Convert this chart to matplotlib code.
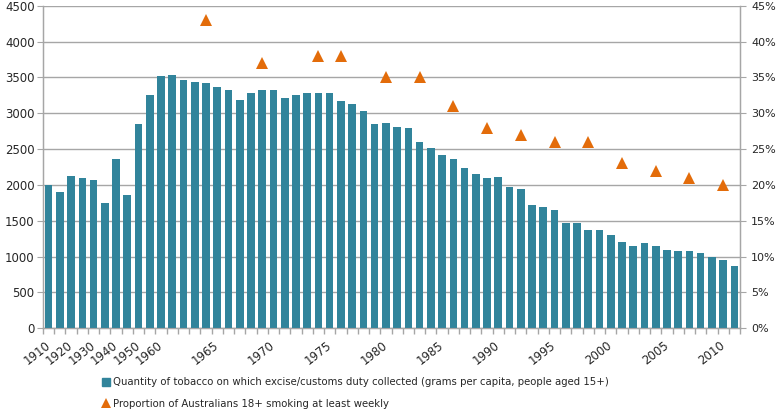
import matplotlib
matplotlib.use("Agg")
import matplotlib.pyplot as plt
from matplotlib.lines import Line2D
import numpy as np

# ---- data ----
early_years = ['1910', '1915', '1920', '1925', '1930', '1935', '1940', '1945', '1950', '1955']
annual_years = [str(y) for y in range(1960, 2012)]
categories = early_years + annual_years

tobacco_grams = [2000, 1900, 2130, 2100, 2070, 1755, 2360, 1855, 2845, 3255,
                 3515, 3540, 3470, 3440, 3425, 3370, 3325, 3180, 3285, 3325,
                 3325, 3220, 3255, 3280, 3280, 3280, 3175, 3125, 3035, 2850,
                 2860, 2815, 2790, 2600, 2515, 2425, 2365, 2235, 2160, 2095,
                 2105, 1965, 1945, 1725, 1690, 1655, 1468, 1468, 1366, 1366,
                 1305, 1205, 1145, 1190, 1145, 1093, 1075, 1075, 1055, 995,
                 958, 870]

smoking_years = ['1964', '1969', '1974', '1976', '1980', '1983', '1986', '1989',
                 '1992', '1995', '1998', '2001', '2004', '2007', '2010']
smoking_pct = [43, 37, 38, 38, 35, 35, 31, 28, 27, 26, 26, 23, 22, 21, 20]

shown_labels = ['1910', '1920', '1930', '1940', '1950', '1960', '1965', '1970', '1975',
                '1980', '1985', '1990', '1995', '2000', '2005', '2010']

bar_label = 'Quantity of tobacco on which excise/customs duty collected (grams per capita, people aged 15+)'
tri_label = 'Proportion of Australians 18+ smoking at least weekly'

# ---- style ----
bar_color = '#31849B'
tri_color = '#E36C0A'
grid_color = '#A6A6A6'
text_color = '#262626'

fig = plt.figure(figsize=(7.8, 4.12), dpi=100)
ax = fig.add_axes([43/780, 1 - 328.3/412, (740-43)/780, (328.3-5.8)/412])

x = np.arange(len(categories))
ax.bar(x, tobacco_grams, width=0.68, color=bar_color, zorder=3)
ax.set_xlim(-0.5, len(categories) - 0.5)
ax.set_ylim(0, 4500)
ax.set_yticks(np.arange(0, 4501, 500))
ax.yaxis.grid(True, color=grid_color, linewidth=1.0, zorder=0)
ax.set_axisbelow(True)

ax.spines['top'].set_visible(False)
for s in ['left', 'right', 'bottom']:
    ax.spines[s].set_color(grid_color)
    ax.spines[s].set_linewidth(1.0)

# x ticks: marks at category boundaries, labels at centres
label_pos = [categories.index(l) for l in shown_labels]
ax.set_xticks(label_pos)
ax.set_xticklabels(shown_labels, rotation=38, ha='right', va='center',
                   rotation_mode='anchor', fontsize=8.5, color=text_color)
ax.tick_params(axis='x', which='major', length=0, pad=11)
ax.set_xticks(np.arange(-0.5, len(categories), 1.0), minor=True)
ax.tick_params(axis='x', which='minor', length=4, color=grid_color, width=1)

ax.tick_params(axis='y', length=4, color=grid_color, labelsize=8.5, labelcolor=text_color, pad=2)

ax2 = ax.twinx()
tri_x = [categories.index(y) for y in smoking_years]
ax2.plot(tri_x, [p / 100 for p in smoking_pct], linestyle='none', marker='^',
         markersize=8, color=tri_color, markeredgewidth=0, zorder=4)
ax2.set_ylim(0, 0.45)
ticks2 = np.arange(0, 0.451, 0.05)
ax2.set_yticks(ticks2)
ax2.set_yticklabels([f'{int(round(v*100))}%' for v in ticks2])
ax2.tick_params(axis='y', length=4, color=grid_color, labelsize=8, labelcolor=text_color, pad=4)
ax2.spines['top'].set_visible(False)
for s in ['left', 'right', 'bottom']:
    ax2.spines[s].set_color(grid_color)

handles = [Line2D([], [], linestyle='none', marker='s', markersize=5.5, color=bar_color),
           Line2D([], [], linestyle='none', marker='^', markersize=7, color=tri_color, markeredgewidth=0)]
fig.legend(handles, [bar_label, tri_label], loc='upper left',
           bbox_to_anchor=(98/780, 1 - 372/412), frameon=False, fontsize=7.3,
           handlelength=0.6, handletextpad=0.35, labelspacing=1.15, borderpad=0,
           labelcolor=text_color)

fig.savefig('out.png', dpi=100)
